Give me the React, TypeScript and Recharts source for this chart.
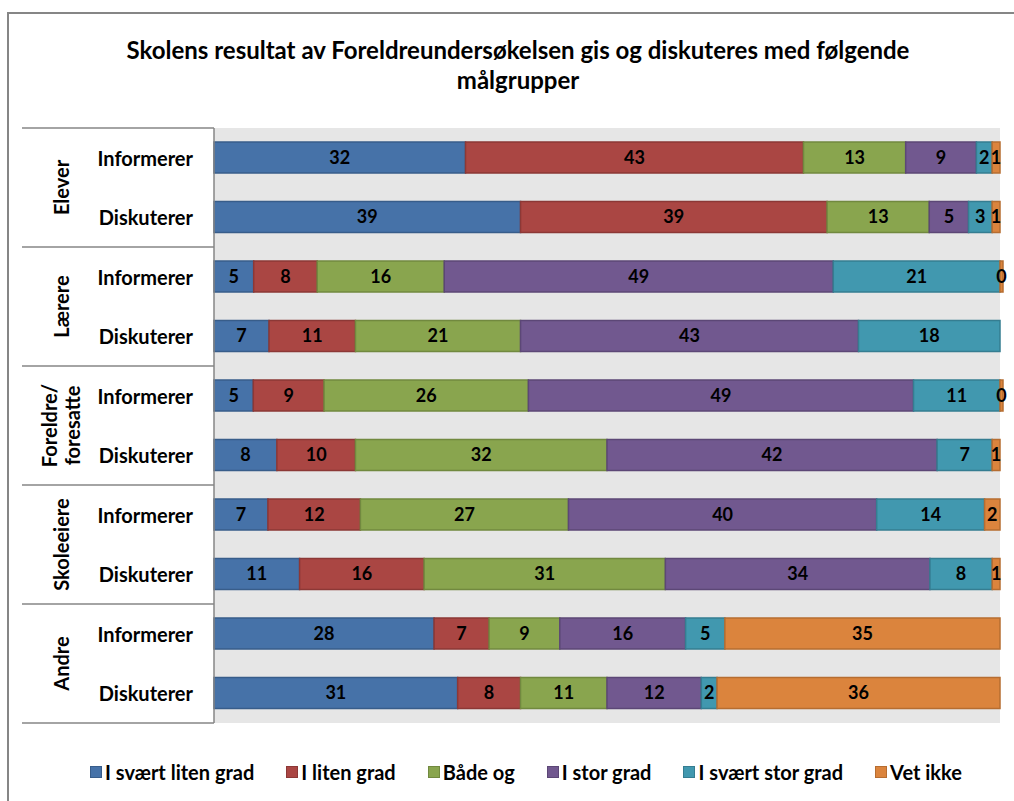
import { Bar, BarChart, CartesianGrid, LabelList, Legend, XAxis, YAxis } from 'recharts'

const groupNames = ['Elever', 'Lærere', 'Foreldre/foresatte', 'Skoleeiere', 'Andre']
const subNames = ['Informerer', 'Diskuterer']
const seriesNames = [
  'I svært liten grad',
  'I liten grad',
  'Både og',
  'I stor grad',
  'I svært stor grad',
  'Vet ikke',
]

// one value per row: Elever Inf, Elever Disk, Lærere Inf, ...
const sværtLiten = [32, 39, 5, 7, 5, 8, 7, 11, 28, 31]
const liten = [43, 39, 8, 11, 9, 10, 12, 16, 7, 8]
const baadeOg = [13, 13, 16, 21, 26, 32, 27, 31, 9, 11]
const stor = [9, 5, 49, 43, 49, 42, 40, 34, 16, 12]
const sværtStor = [2, 3, 21, 18, 11, 7, 14, 8, 5, 2]
const vetIkke = [1, 1, 0, null, 0, 1, 2, 1, 35, 36]

const seriesValues = [sværtLiten, liten, baadeOg, stor, sværtStor, vetIkke]
const fills = ['#4672A8', '#AA4643', '#89A54E', '#71588F', '#4198AF', '#DB843D']
const strokes = ['#385D8A', '#8C3836', '#71893F', '#5C4776', '#357D91', '#B66D31']

const FONT = 'Lato, "Open Sans", sans-serif'
const W = 1014
const H = 801
const M = { top: 128, right: 14, bottom: 20, left: 0 }
const LEGEND_H = 58

const rows = groupNames.flatMap((g) => subNames.map((s) => ({ group: g, sub: s })))
const data = rows.map((r, i) => {
  const row: Record<string, string | number | null> = { key: `${r.group}|${r.sub}` }
  seriesValues.forEach((vals, s) => {
    row[`s${s}`] = vals[i]
  })
  return row
})

const halfBand = (H - M.top - M.bottom - LEGEND_H) / rows.length / 2

function CategoryTick(props: any) {
  const { x, y, payload } = props
  const i = data.findIndex((d) => d.key === payload.value)
  if (i < 0) return null
  const { group, sub } = rows[i]
  const first = sub === subNames[0]
  const last = i === rows.length - 1
  const groupLines = group === 'Foreldre/foresatte' ? ['Foreldre/', 'foresatte'] : [group]
  const gx = x - 152
  const gy = y + halfBand
  return (
    <g>
      <text
        x={x - 21}
        y={y}
        textAnchor="end"
        dominantBaseline="central"
        fontFamily={FONT}
        fontWeight={700}
        fontSize={20}
        fill="#000"
      >
        {sub}
      </text>
      {first && (
        <>
          <line x1={x - 192} x2={x} y1={y - halfBand} y2={y - halfBand} stroke="#868686" strokeWidth={1.5} />
          <text
            transform={`translate(${gx},${gy}) rotate(-90)`}
            textAnchor="middle"
            fontFamily={FONT}
            fontWeight={700}
            fontSize={20}
            fill="#000"
          >
            {groupLines.map((l, k) => (
              <tspan key={l} x={0} dy={k === 0 ? (groupLines.length === 1 ? 7 : -5) : 23}>
                {l}
              </tspan>
            ))}
          </text>
        </>
      )}
      {last && (
        <line x1={x - 192} x2={x} y1={y + halfBand} y2={y + halfBand} stroke="#868686" strokeWidth={1.5} />
      )}
    </g>
  )
}

function LegendContent(props: any) {
  const items = [...(props.payload ?? [])].sort(
    (a: any, b: any) => seriesNames.indexOf(a.value) - seriesNames.indexOf(b.value),
  )
  return (
    <div
      style={{
        display: 'flex',
        paddingLeft: 90,
        paddingTop: 38,
        gap: 32,
        fontFamily: FONT,
        fontWeight: 700,
        fontSize: 20,
        color: '#000',
        lineHeight: '22px',
      }}
    >
      {items.map((it: any) => {
        const s = seriesNames.indexOf(it.value)
        return (
          <div key={it.value} style={{ display: 'flex', alignItems: 'center', whiteSpace: 'nowrap' }}>
            <span
              style={{
                display: 'inline-block',
                width: 10,
                height: 10,
                background: fills[s],
                border: `1px solid ${strokes[s]}`,
                marginRight: 3,
              }}
            />
            {it.value}
          </div>
        )
      })}
    </div>
  )
}

export default function App() {
  return (
    <div style={{ position: 'fixed', left: 0, top: 0, width: W, height: H, overflow: 'hidden', background: '#fff' }}>
      <div
        style={{
          position: 'absolute',
          left: 7,
          top: 12,
          width: W + 100,
          height: H + 100,
          borderLeft: '2px solid #868686',
          borderTop: '2px solid #868686',
        }}
      />
      <div
        style={{
          position: 'absolute',
          left: 18,
          top: 35,
          width: 1000,
          textAlign: 'center',
          fontFamily: FONT,
          fontWeight: 700,
          fontSize: 24,
          lineHeight: '30px',
          color: '#000',
        }}
      >
        Skolens resultat av Foreldreundersøkelsen gis og diskuteres med følgende
        <br />
        målgrupper
      </div>
      <div style={{ position: 'absolute', left: 0, top: 0 }}>
        <BarChart width={W} height={H} data={data} layout="vertical" stackOffset="expand" margin={M}>
          <CartesianGrid fill="#E6E6E6" horizontal={false} vertical={false} />
          <XAxis type="number" hide domain={[0, 1]} />
          <YAxis
            type="category"
            dataKey="key"
            width={214}
            axisLine={{ stroke: '#868686', strokeWidth: 1.5 }}
            tickLine={false}
            tickSize={0}
            tickMargin={0}
            interval={0}
            tick={<CategoryTick />}
          />
          <Legend
            verticalAlign="bottom"
            height={LEGEND_H}
            wrapperStyle={{ left: 0, width: W }}
            content={<LegendContent />}
          />
          {seriesNames.map((name, s) => (
            <Bar
              key={name}
              dataKey={`s${s}`}
              name={name}
              stackId="a"
              barSize={31}
              fill={fills[s]}
              stroke={strokes[s]}
              strokeWidth={1.5}
              minPointSize={(_v: number, i: number) => (seriesValues[s][i] === 0 ? 3 : 0)}
              isAnimationActive={false}
            >
              <LabelList
                dataKey={`s${s}`}
                position="center"
                fill="#000"
                fontFamily={FONT}
                fontWeight={700}
                fontSize={18}
              />
            </Bar>
          ))}
        </BarChart>
      </div>
    </div>
  )
}
